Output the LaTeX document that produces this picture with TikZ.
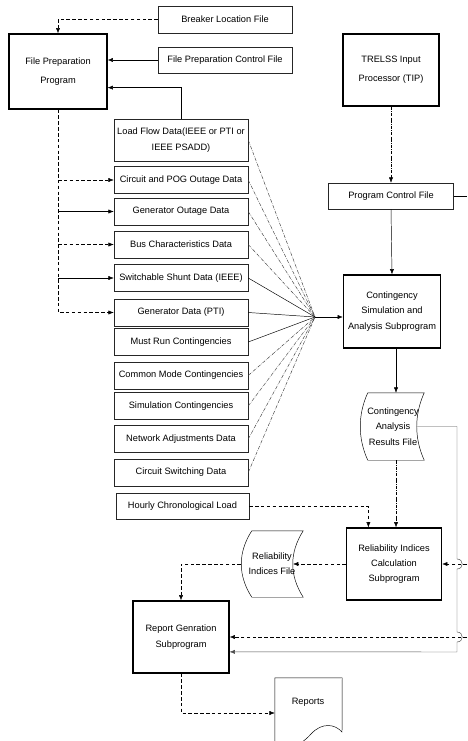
\documentclass[tikz,border=0pt]{standalone}
\usepackage{fontspec}
\setmainfont{Liberation Sans}
\usetikzlibrary{arrows.meta}

\tikzset{
  wh/.style 2 args={minimum width=#1*0.03cm, minimum height=#2*0.03cm},
  proc/.style={draw, line width=1pt, align=center, inner sep=0pt,
    font=\fontsize{7.9}{13}\selectfont},
  datafile/.style={draw, thin, black!85, text=black, align=center, inner sep=0pt,
    font=\fontsize{7.9}{13}\selectfont},
  ftext/.style={align=center, inner sep=0pt, font=\fontsize{7.9}{13}\selectfont},
  link/.style={thin, ->},
  dlink/.style={thin, densely dashed, ->},
  fan/.style={thin, densely dash dot, black!75},
  fansolid/.style={thin, black},
}

\begin{document}
\begin{tikzpicture}[x=0.03cm, y=-0.03cm, >={Latex[length=4.5pt,width=3.5pt]}]
  \clip (0,0) rectangle (467,741);

  % programs
  \node[proc, wh={98}{75}, font=\fontsize{7.9}{16}\selectfont] (fpp) at (58,71.5) {File Preparation\\Program};
  \node[proc, wh={96}{72}, font=\fontsize{7.9}{16}\selectfont] (tip) at (391,70) {TRELSS Input\\Processor (TIP)};
  \node[proc, wh={97}{73}] (csa) at (392,311.5) {Contingency\\Simulation and\\Analysis Subprogram};
  \node[proc, wh={95}{72}] (ric) at (394,564) {Reliability Indices\\Calculation\\Subprogram};
  \node[proc, wh={96}{72}] (rgs) at (181,637) {Report Genration\\Subprogram};

  % input files
  \node[datafile, wh={134}{27}] (brk) at (225,19.5) {Breaker Location File};
  \node[datafile, wh={134}{26}] (fpc) at (225,60) {File Preparation Control File};
  \node[datafile, wh={125}{26}] (pcf) at (391,196) {Program Control File};
  \node[datafile, wh={134}{42}] (lfd) at (181,140) {Load Flow Data(IEEE or PTI or\\IEEE PSADD)};
  \foreach \n/\y/\t in {cpo/180/Circuit and POG Outage Data,
                        gou/211.5/Generator Outage Data,
                        bus/244.5/Bus Characteristics Data,
                        shn/278/Switchable Shunt Data (IEEE),
                        gdp/312.5/Generator Data (PTI),
                        mrc/342/Must Run Contingencies,
                        cmc/375.5/Common Mode Contingencies,
                        sim/406/Simulation Contingencies,
                        nad/439/Network Adjustments Data,
                        csw/472.5/Circuit Switching Data}
    \node[datafile, wh={134}{27}] (\n) at (181,\y) {\t};
  \node[datafile, wh={133}{26}] (hcl) at (182.5,506) {Hourly Chronological Load};

  % stored files
  \node[wh={56}{67}, inner sep=0pt] (carf) at (396,426.5) {};
  \draw[thin] (carf.north west) -- (carf.north east)
    .. controls +(-10,22) and +(-10,-22) .. (carf.south east) -- (carf.south west)
    .. controls +(-10,-22) and +(-10,22) .. (carf.north west);
  \node[ftext] (carft) at (393,426.5) {Contingency\\Analysis\\Results File};
  \coordinate (carfR) at (416.5,426.5);

  \node[wh={51}{66}, inner sep=0pt] (rif) at (277.5,564) {};
  \draw[thin] (rif.north west) -- (rif.north east)
    .. controls +(-14,22) and +(-14,-22) .. (rif.south east) -- (rif.south west)
    .. controls +(-14,-22) and +(-14,22) .. (rif.north west);
  \node[ftext] (rift) at (272,564) {Reliability\\Indices File};
  \coordinate (rifR) at (293,564);
  \coordinate (rifL) at (241,564);

  % report document
  \node[wh={67}{70}, inner sep=0pt] (rep) at (308.5,713) {};
  \draw[thin] (rep.south west) -- (rep.north west) -- (rep.north east) -- (342,732)
    .. controls (335,724) and (322,722) .. (311,734)
    .. controls (300,746) and (290,750) .. (rep.south west);
  \node[ftext] (rept) at (308,702) {Reports};

  % file preparation
  \draw[dlink] (brk.west) -| (fpp.north);
  \draw[link] (fpc.west) -- (fpc.west -| fpp.east);
  \draw[link] (lfd.north) |- (fpp.-18.6);
  \draw[dlink] (fpp.south) |- (gdp.west);
  \foreach \n/\s in {cpo/dlink, gou/link, bus/dlink, shn/link}
    \draw[\s] (fpp.south |- \n.west) -- (\n.west);

  % data to contingency simulation
  \coordinate (F) at (315,317);
  \foreach \n/\s in {lfd/fan, cpo/fan, gou/fan, bus/fan, shn/fansolid, gdp/fansolid,
                     mrc/fansolid, cmc/fan, sim/fan, nad/fan, csw/fan}
    \draw[\s] (\n.east) -- (F);
  \draw[link] (F) -- (F -| csa.west);

  \draw[thin, densely dash dot, ->] (tip.south) -- (pcf.north);
  \draw[link] (pcf.south) -- (csa.north);
  \coordinate (pcfout) at (467,196);
  \draw[thin] (pcf.east) -- (pcfout);

  \draw[link] (csa.south -| carf.north) -- (carf.north);
  \draw[thin, densely dash dot, ->] (carf.south) -- (carf.south |- ric.north);
  \draw[dlink] (hcl.east) -| (ric.125);

  % results to reports
  \coordinate (rin) at (467,564);
  \coordinate (gin) at (467,637);
  \draw[dlink] (rin) -- (ric.east);
  \draw[dlink] (gin) -- (rgs.east);
  \draw[thin, black!70, ->] (carfR) -- (457,426.5) -- (457,559)
    .. controls (464,559) and (464,569) .. (457,569) -- (457,632)
    .. controls (464,632) and (464,642) .. (457,642) -- (457,652) -- (rgs.-17);
  \draw[dlink] (ric.west) -- (rifR);
  \draw[dlink] (rifL) -| (rgs.north);
  \draw[dlink] (rgs.south) |- (rep.west);
\end{tikzpicture}
\end{document}
